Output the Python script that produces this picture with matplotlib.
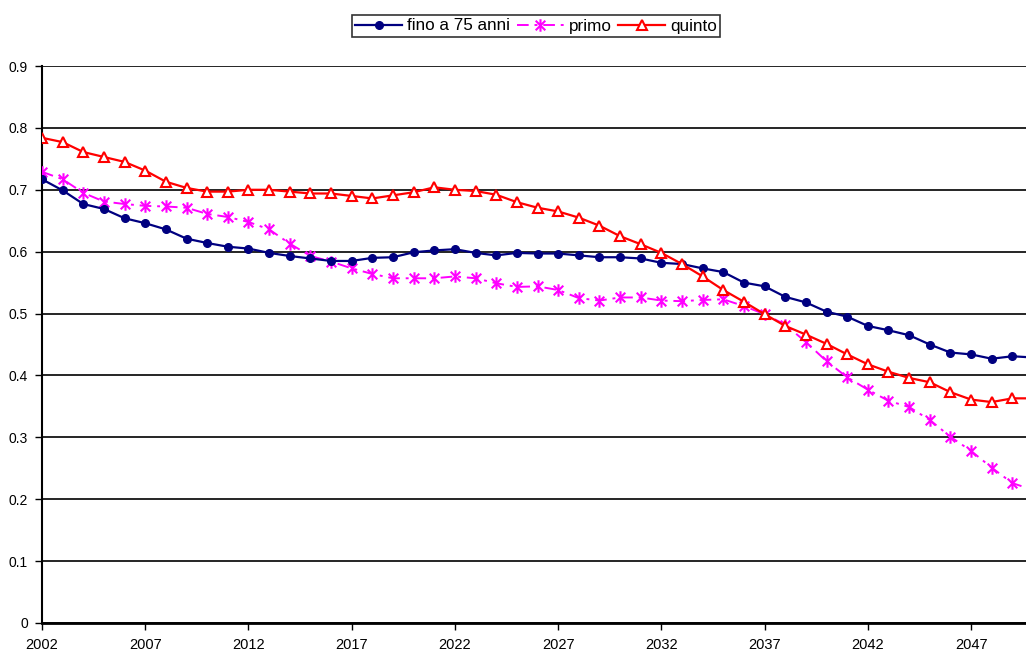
import matplotlib
matplotlib.use("Agg")
import matplotlib.pyplot as plt
from matplotlib.path import Path
import numpy as np

plt.rcParams['font.family'] = ['Liberation Sans', 'DejaVu Sans']

years = list(range(2002, 2051))

fino_75 = [0.717, 0.699, 0.677, 0.669, 0.654, 0.646, 0.636, 0.621, 0.614, 0.608,
           0.605, 0.598, 0.593, 0.589, 0.585, 0.585, 0.590, 0.591, 0.599, 0.602,
           0.604, 0.598, 0.594, 0.598, 0.597, 0.597, 0.594, 0.591, 0.591, 0.589,
           0.582, 0.580, 0.573, 0.567, 0.550, 0.544, 0.527, 0.518, 0.503, 0.495,
           0.480, 0.473, 0.465, 0.450, 0.437, 0.434, 0.427, 0.431, 0.429]

primo = [0.729, 0.717, 0.695, 0.681, 0.677, 0.674, 0.673, 0.671, 0.661, 0.656,
         0.648, 0.636, 0.613, 0.593, 0.584, 0.573, 0.564, 0.557, 0.557, 0.557,
         0.560, 0.557, 0.549, 0.543, 0.544, 0.538, 0.525, 0.521, 0.526, 0.526,
         0.521, 0.520, 0.522, 0.523, 0.512, 0.499, 0.482, 0.454, 0.423, 0.397,
         0.377, 0.359, 0.349, 0.328, 0.301, 0.278, 0.251, 0.226, 0.215]

quinto = [0.784, 0.777, 0.761, 0.753, 0.745, 0.731, 0.713, 0.703, 0.697, 0.697,
          0.700, 0.700, 0.697, 0.694, 0.694, 0.690, 0.686, 0.691, 0.696, 0.704,
          0.700, 0.698, 0.692, 0.680, 0.671, 0.665, 0.655, 0.642, 0.625, 0.612,
          0.598, 0.580, 0.560, 0.538, 0.519, 0.499, 0.480, 0.466, 0.451, 0.434,
          0.418, 0.406, 0.396, 0.389, 0.373, 0.361, 0.357, 0.363, 0.363]

series_labels = ['fino a 75 anni', 'primo', 'quinto']
xtick_years = list(range(2002, 2050, 5))
ytick_vals = [0, 0.1, 0.2, 0.3, 0.4, 0.5, 0.6, 0.7, 0.8, 0.9]
ytick_labels = ['0', '0.1', '0.2', '0.3', '0.4', '0.5', '0.6', '0.7', '0.8', '0.9']

# Excel-like asterisk marker: X plus vertical bar
star_path = Path(
    [(-1, -1), (1, 1), (-1, 1), (1, -1), (0, -1.3), (0, 1.3)],
    [Path.MOVETO, Path.LINETO, Path.MOVETO, Path.LINETO, Path.MOVETO, Path.LINETO])

fig = plt.figure(figsize=(10.26, 6.55), dpi=100)
ax = fig.add_axes([42 / 1026, 32 / 655, 991 / 1026, 557 / 655])

ax.plot(years, fino_75, color='#000080', lw=1.6, marker='o', ms=5.5,
        mfc='#000080', mec='#000080', label=series_labels[0], zorder=4)
ax.plot(years, primo, color='#FF00FF', lw=1.4, ls=(0, (6, 3, 1.5, 3)), marker=star_path,
        ms=9, mew=1.5, mec='#FF00FF', mfc='none', label=series_labels[1], zorder=3)
ax.plot(years, quinto, color='#FF0000', lw=1.6, marker='^', ms=7.5, mew=1.5,
        mfc='white', mec='#FF0000', label=series_labels[2], zorder=5)

ax.set_xlim(2002, 2050)
ax.set_ylim(0, 0.9)
ax.set_xticks(xtick_years)
ax.set_xticklabels([str(y) for y in xtick_years], fontsize=10.5)
ax.set_yticks(ytick_vals)
ax.set_yticklabels(ytick_labels, fontsize=10)
ax.yaxis.grid(True, color='black', lw=1.2)
ax.set_axisbelow(True)
for s in ['top', 'right']:
    ax.spines[s].set_visible(False)
ax.spines['left'].set_linewidth(1.5)
ax.spines['bottom'].set_linewidth(2)
ax.tick_params(axis='x', direction='out', length=5, width=1, pad=6)
ax.tick_params(axis='y', direction='out', length=5, width=1, pad=5)

leg = fig.legend(loc='center', bbox_to_anchor=(536 / 1026, 1 - 26 / 655), ncol=3,
                 fontsize=12.3, frameon=True, fancybox=False, edgecolor='black',
                 handlelength=2.75, handletextpad=0.28, columnspacing=0.4,
                 borderpad=0.2, borderaxespad=0, handleheight=0.7)
leg.get_frame().set_linewidth(1.2)

fig.savefig('out.png', dpi=100)
